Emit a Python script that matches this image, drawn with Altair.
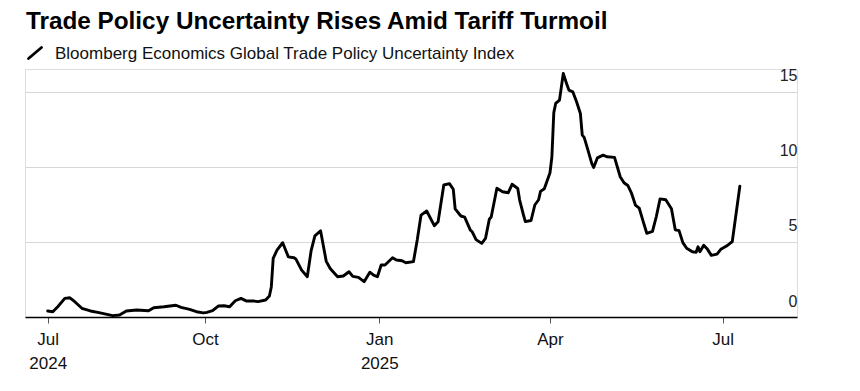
import altair as alt
import pandas as pd

title_text = "Trade Policy Uncertainty Rises Amid Tariff Turmoil"
subtitle_text = "Bloomberg Economics Global Trade Policy Uncertainty Index"

dates = [
    "2024-07-01", "2024-07-04", "2024-07-07", "2024-07-11", "2024-07-14", "2024-07-17",
    "2024-07-21", "2024-07-26", "2024-07-31", "2024-08-08", "2024-08-12", "2024-08-16",
    "2024-08-22", "2024-08-29", "2024-09-01", "2024-09-07", "2024-09-14", "2024-09-17",
    "2024-09-22", "2024-09-26", "2024-09-30", "2024-10-02", "2024-10-05", "2024-10-08",
    "2024-10-11", "2024-10-14", "2024-10-17", "2024-10-20", "2024-10-23", "2024-10-27",
    "2024-10-29", "2024-11-02", "2024-11-04", "2024-11-05", "2024-11-06", "2024-11-08",
    "2024-11-11", "2024-11-14", "2024-11-17", "2024-11-18", "2024-11-21", "2024-11-24",
    "2024-11-26", "2024-11-28", "2024-12-01", "2024-12-04", "2024-12-06", "2024-12-07",
    "2024-12-10", "2024-12-13", "2024-12-16", "2024-12-18", "2024-12-21", "2024-12-24",
    "2024-12-27", "2024-12-29", "2024-12-31", "2025-01-02", "2025-01-04", "2025-01-08",
    "2025-01-10", "2025-01-13", "2025-01-15", "2025-01-19", "2025-01-21", "2025-01-23",
    "2025-01-26", "2025-01-30", "2025-02-01", "2025-02-04", "2025-02-07", "2025-02-09",
    "2025-02-10", "2025-02-13", "2025-02-15", "2025-02-18", "2025-02-19", "2025-02-21",
    "2025-02-24", "2025-02-26", "2025-02-28", "2025-03-01", "2025-03-04", "2025-03-07",
    "2025-03-10", "2025-03-12", "2025-03-15", "2025-03-16", "2025-03-18", "2025-03-19",
    "2025-03-22", "2025-03-24", "2025-03-26", "2025-03-27", "2025-03-29", "2025-04-01",
    "2025-04-02", "2025-04-03", "2025-04-04", "2025-04-06", "2025-04-07", "2025-04-08",
    "2025-04-10", "2025-04-11", "2025-04-13", "2025-04-15", "2025-04-17", "2025-04-18",
    "2025-04-19", "2025-04-21", "2025-04-23", "2025-04-24", "2025-04-26", "2025-04-29",
    "2025-05-01", "2025-05-05", "2025-05-08", "2025-05-10", "2025-05-12", "2025-05-14",
    "2025-05-16", "2025-05-18", "2025-05-20", "2025-05-22", "2025-05-25", "2025-05-27",
    "2025-05-29", "2025-06-01", "2025-06-04", "2025-06-06", "2025-06-08", "2025-06-10",
    "2025-06-12", "2025-06-15", "2025-06-17", "2025-06-18", "2025-06-19", "2025-06-21",
    "2025-06-23", "2025-06-25", "2025-06-28", "2025-06-30", "2025-07-03", "2025-07-05",
    "2025-07-06", "2025-07-10",
]

values = [
    0.40, 0.35, 0.70, 1.24, 1.28, 1.00,
    0.58, 0.40, 0.29, 0.09, 0.13, 0.40,
    0.47, 0.42, 0.62, 0.68, 0.78, 0.64,
    0.51, 0.35, 0.27, 0.31, 0.42, 0.73,
    0.75, 0.68, 1.08, 1.24, 1.06, 1.06,
    1.02, 1.13, 1.40, 2.00, 3.90, 4.45,
    4.94, 4.00, 3.94, 3.85, 3.12, 2.68,
    4.40, 5.40, 5.74, 3.70, 3.24, 3.10,
    2.68, 2.73, 3.01, 2.70, 2.64, 2.35,
    2.98, 2.79, 2.68, 3.46, 3.46, 3.94,
    3.79, 3.74, 3.61, 3.68, 5.12, 6.78,
    7.05, 6.08, 6.34, 8.78, 8.87, 8.50,
    7.20, 6.72, 6.65, 5.78, 5.67, 5.15,
    4.90, 5.23, 6.50, 6.65, 8.56, 8.33,
    8.27, 8.83, 8.55, 7.78, 6.80, 6.35,
    6.42, 7.45, 7.80, 8.36, 8.53, 9.60,
    10.66, 13.60, 14.21, 14.43, 15.31, 16.20,
    15.43, 15.09, 14.98, 14.32, 13.54, 12.10,
    11.95, 11.10, 10.22, 9.95, 10.59, 10.77,
    10.66, 10.62, 9.33, 8.93, 8.75, 8.22,
    7.45, 7.25, 6.40, 5.57, 5.70, 6.67,
    7.86, 7.80, 7.20, 5.80, 5.75, 4.95,
    4.57, 4.34, 4.30, 4.67, 4.34, 4.77,
    4.50, 4.10, 4.18, 4.50, 4.72, 4.92,
    5.00, 8.70,
]

y_ticks = [0, 5, 10, 15]
x_tick_dates = ["2024-07-01", "2024-10-01", "2025-01-01", "2025-04-01", "2025-07-01"]
x_domain_dates = ["2024-06-18", "2024-07-01", "2024-10-01", "2025-01-01",
                  "2025-04-01", "2025-07-01", "2025-08-09"]
x_range_px = [0, 22.7, 180, 354.3, 525, 697.7, 772]


def to_ms(ds):
    return [int(v) for v in (pd.to_datetime(ds).astype("int64") // 10**6)]


df = pd.DataFrame({"date": dates, "value": values})
df["t"] = to_ms(dates)

W, H = 772, 248

x_scale = alt.Scale(type="linear", domain=to_ms(x_domain_dates),
                    range=x_range_px, nice=False, zero=False)
y_scale = alt.Scale(domain=[0, 16.5], nice=False, zero=True)

label_expr = ("utcmonth(datum.value) == 0 || (utcmonth(datum.value) == 6 && utcyear(datum.value) == 2024)"
              " ? [utcFormat(datum.value, '%b'), utcFormat(datum.value, '%Y')]"
              " : utcFormat(datum.value, '%b')")

line = alt.Chart(df).mark_line(
    color="#000000", strokeWidth=2.9, strokeJoin="round", strokeCap="round"
).encode(
    x=alt.X("t:Q", scale=x_scale, title=None,
            axis=alt.Axis(values=to_ms(x_tick_dates), labelExpr=label_expr,
                          grid=False, domain=True, domainColor="#000000", domainWidth=1.5,
                          ticks=True, tickSize=6, tickColor="#555555", tickWidth=1,
                          labelFont="Liberation Sans", labelFontSize=17, labelColor="#111111",
                          labelPadding=8, labelLineHeight=24, labelFlush=False,
                          labelOverlap=False, labelBaseline="top")),
    y=alt.Y("value:Q", scale=y_scale, title=None,
            axis=alt.Axis(orient="right", values=y_ticks, grid=True, gridColor="#d6d6d6",
                          gridWidth=1, domain=False, ticks=False, tickSize=0,
                          labelFont="Liberation Sans", labelFontSize=16, labelColor="#222222",
                          labelAlign="right", labelBaseline="alphabetic", labelPadding=0,
                          labelOffset=-11, labelFlush=False)),
)

blank = alt.Data(values=[{}])

title_mark = alt.Chart(blank).mark_text(
    align="left", baseline="alphabetic", font="Liberation Sans", fontSize=24.3,
    fontWeight="bold", color="#000000"
).encode(x=alt.value(1), y=alt.value(-40.2), text=alt.value(title_text))

subtitle_mark = alt.Chart(blank).mark_text(
    align="left", baseline="alphabetic", font="Liberation Sans", fontSize=17,
    color="#111111"
).encode(x=alt.value(30), y=alt.value(-9.7), text=alt.value(subtitle_text))

icon_mark = alt.Chart(blank).mark_rule(
    color="#000000", strokeWidth=2.8, strokeCap="round"
).encode(x=alt.value(3.5), x2=alt.value(16.5), y=alt.value(-10.5), y2=alt.value(-21.5))

chart = alt.layer(line, title_mark, subtitle_mark, icon_mark).properties(
    width=W, height=H,
    autosize=alt.AutoSizeParams(type="none"),
    padding={"left": 17, "top": 61, "right": 20, "bottom": 60},
).configure_view(stroke=None).configure(background="#ffffff")

chart.save("out.html", embed_options={"renderer": "svg", "actions": False})
